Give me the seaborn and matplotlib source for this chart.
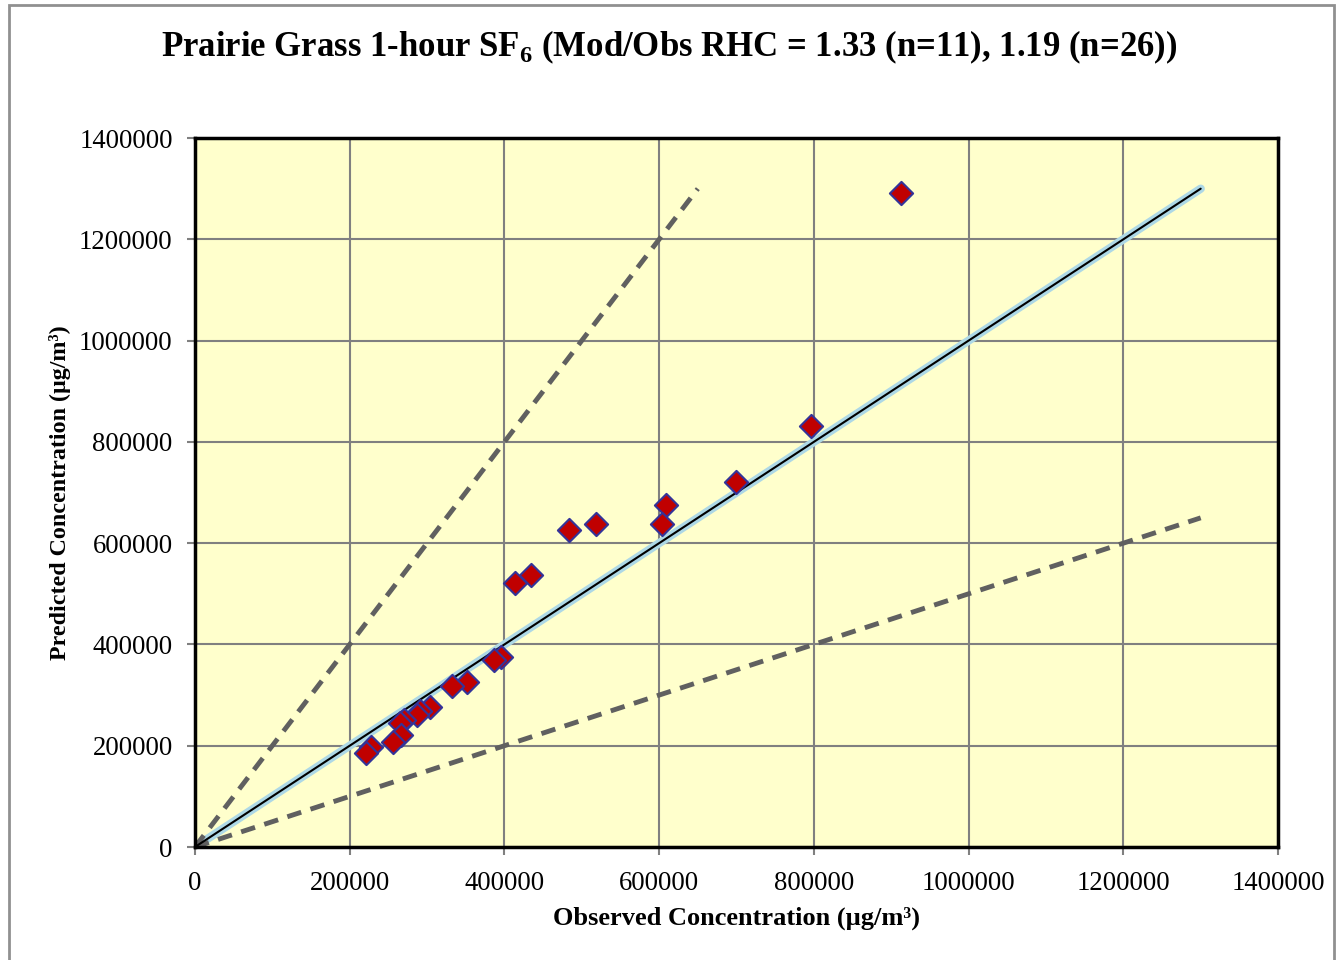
import numpy as np
import pandas as pd
import seaborn as sns
import matplotlib.pyplot as plt
from matplotlib.patches import Rectangle

# Observed vs predicted 1-hour SF6 concentrations (ug/m3)
observed = [912600, 796300, 699300, 608900, 603700, 518400, 483500, 434300,
            413700, 395600, 386500, 351600, 332300, 304400, 290800, 287400,
            270000, 265000, 266300, 255500, 227100, 221100]
predicted = [1291500, 831400, 720800, 675400, 637800, 637800, 626000, 537100,
             521300, 375200, 369300, 325800, 317900, 275500, 268600, 260700,
             250000, 244300, 221200, 208000, 198200, 185000]

# reference lines: 1:1 and factor-of-two
line_x = [0, 1300000]
one_to_one = [0, 1300000]
fac2_hi_x = [0, 650000]
fac2_hi_y = [0, 1300000]
fac2_lo_y = [0, 650000]

ticks = [0, 200000, 400000, 600000, 800000, 1000000, 1200000, 1400000]

df = pd.DataFrame({"obs": observed, "pred": predicted})

sns.set_style("white")
plt.rcParams['font.family'] = ['Liberation Serif', 'DejaVu Serif']
plt.rcParams['text.color'] = 'black'
plt.rcParams['axes.labelcolor'] = 'black'
plt.rcParams['mathtext.fontset'] = 'custom'
plt.rcParams['mathtext.rm'] = 'Liberation Serif'
plt.rcParams['mathtext.bf'] = 'Liberation Serif:bold'

fig = plt.figure(figsize=(13.38, 9.6), dpi=100)
ax = fig.add_axes([0.1457, 0.1177, 0.8095, 0.7385])
ax.set_facecolor("#FFFFCC")

# figure border
fig.patches.append(Rectangle((0.007, -0.01), 0.99, 1.005, transform=fig.transFigure,
                             fill=False, edgecolor="#909090", linewidth=2))

ax.plot(line_x, one_to_one, color="#ADD8E6", linewidth=6, solid_capstyle="round", zorder=2)
ax.plot(line_x, one_to_one, color="black", linewidth=1.5, zorder=3)
ax.plot(fac2_hi_x, fac2_hi_y, color="#606060", linewidth=3.5, linestyle=(0, (3, 2)), zorder=2)
ax.plot(line_x, fac2_lo_y, color="#606060", linewidth=3.5, linestyle=(0, (3, 2)), zorder=2)

sns.scatterplot(data=df, x="obs", y="pred", ax=ax, marker="D", s=140,
                color="#C00000", edgecolor="#333399", linewidth=1.5, zorder=4)

ax.set_xlim(0, 1400000)
ax.set_ylim(0, 1400000)
ax.set_xticks(ticks)
ax.set_yticks(ticks)
ax.set_xticklabels([str(t) for t in ticks])
ax.set_yticklabels([str(t) for t in ticks])
ax.grid(True, color="#808080", linewidth=1.5)
ax.set_axisbelow(True)
ax.tick_params(axis="both", labelsize=19.3, length=6, width=1.5, color="#808080",
               labelcolor="black", direction="out", bottom=True, left=True)
ax.tick_params(axis="x", pad=11)
ax.tick_params(axis="y", pad=10)
for sp in ax.spines.values():
    sp.set_color("black")
    sp.set_linewidth(2.5)

ax.set_xlabel("Observed Concentration (µg/m³)", fontsize=19, fontweight="bold", labelpad=8)
ax.set_ylabel("Predicted Concentration (µg/m³)", fontsize=17.3, fontweight="bold", labelpad=6)

fig.text(0.5, 0.951, r"Prairie Grass 1-hour SF$_\mathbf{6}$ (Mod/Obs RHC = 1.33 (n=11), 1.19 (n=26))",
         ha="center", va="center", fontsize=25, fontweight="bold")

fig.savefig("out.png", dpi=100, facecolor="white")
